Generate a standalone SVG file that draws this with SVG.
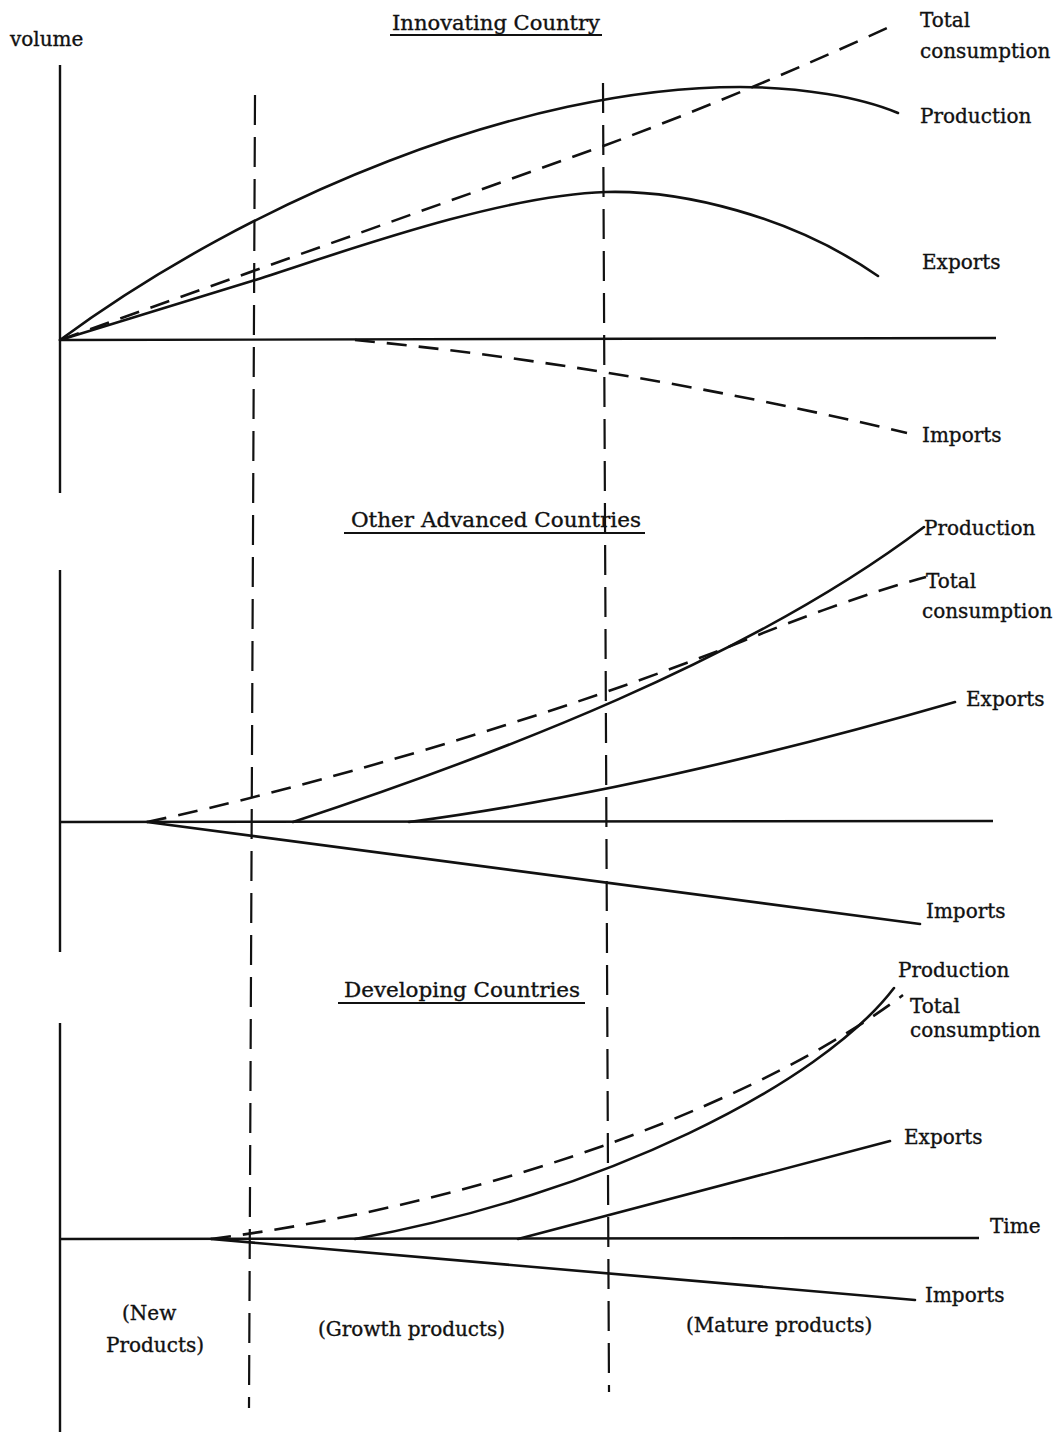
<svg xmlns="http://www.w3.org/2000/svg" width="1064" height="1432" viewBox="0 0 1064 1432">
<style>
  text { font-family: "DejaVu Serif", "Liberation Serif", serif; font-size: 20px; fill: #111; stroke: #111; stroke-width: 0.35; }
  .ax { stroke: #111; stroke-width: 2.4; fill: none; }
  .ln { stroke: #111; stroke-width: 2.6; fill: none; stroke-linecap: round; }
  .ds { stroke: #111; stroke-width: 2.6; fill: none; stroke-dasharray: 20 12; }
  .vd { stroke: #111; stroke-width: 2.2; fill: none; stroke-dasharray: 30 12; }
  .ul { stroke: #111; stroke-width: 2; }
</style>
<rect width="1064" height="1432" fill="#fff"/>

<g id="axes">
  <line class="ax" x1="60" y1="65" x2="60" y2="493"/>
  <line class="ax" x1="60" y1="570" x2="60" y2="952"/>
  <line class="ax" x1="60" y1="1023" x2="60" y2="1432"/>
  <line class="ax" x1="60" y1="340" x2="996" y2="338"/>
  <line class="ax" x1="60" y1="822" x2="993" y2="821"/>
  <line class="ax" x1="60" y1="1239" x2="979" y2="1238"/>
  <text x="10" y="46" font-size="21">volume</text>
  <text x="990" y="1233">Time</text>
</g>

<g id="stage-dividers">
  <line class="vd" x1="255" y1="95" x2="249" y2="1408"/>
  <line class="vd" x1="603" y1="83" x2="609" y2="1392"/>
</g>

<g id="innovating-country">
  <text x="392" y="30" textLength="208" lengthAdjust="spacingAndGlyphs">Innovating Country</text>
  <line class="ul" x1="390" y1="35" x2="602" y2="35"/>
  <path class="ln" d="M60,340 C250,200 520,87 740,87 C800,87 860,97 898,113"/>
  <path class="ds" d="M60,340 L606,145 C700,110 800,68 887,28"/>
  <path class="ln" d="M60,340 L252,281 C340,253 500,195 606,192 C680,190 790,215 878,276"/>
  <path class="ds" d="M355,340 Q620,365 907,433"/>
  <text x="920" y="27">Total</text>
  <text x="920" y="58">consumption</text>
  <text x="920" y="123">Production</text>
  <text x="922" y="269">Exports</text>
  <text x="922" y="442">Imports</text>
</g>

<g id="other-advanced-countries">
  <text x="351" y="527" textLength="290" lengthAdjust="spacingAndGlyphs">Other Advanced Countries</text>
  <line class="ul" x1="344" y1="533" x2="645" y2="533"/>
  <path class="ln" d="M293,822 C493,756 748,660 924,527"/>
  <path class="ds" d="M147,822 C300,790 560,715 743,641 C800,618 870,592 926,577"/>
  <path class="ln" d="M409,822 Q650,790 955,702"/>
  <path class="ln" d="M147,822 L920,924"/>
  <text x="924" y="535">Production</text>
  <text x="926" y="588">Total</text>
  <text x="922" y="618">consumption</text>
  <text x="966" y="706">Exports</text>
  <text x="926" y="918">Imports</text>
</g>

<g id="developing-countries">
  <text x="344" y="997" textLength="236" lengthAdjust="spacingAndGlyphs">Developing Countries</text>
  <line class="ul" x1="338" y1="1003" x2="585" y2="1003"/>
  <path class="ln" d="M355,1239 C600,1195 820,1085 894,988"/>
  <path class="ds" d="M211,1239 C511,1200 770,1095 903,995"/>
  <path class="ln" d="M518,1239 L890,1141"/>
  <path class="ln" d="M211,1239 L915,1300" stroke-width="3.2"/>
  <text x="898" y="977">Production</text>
  <text x="910" y="1013">Total</text>
  <text x="910" y="1037">consumption</text>
  <text x="904" y="1144">Exports</text>
  <text x="925" y="1302">Imports</text>
</g>

<g id="stage-labels">
  <text x="122" y="1320" font-size="19">(New</text>
  <text x="106" y="1352" font-size="19">Products)</text>
  <text x="318" y="1336" font-size="19">(Growth products)</text>
  <text x="686" y="1332" font-size="19">(Mature products)</text>
</g>
</svg>
